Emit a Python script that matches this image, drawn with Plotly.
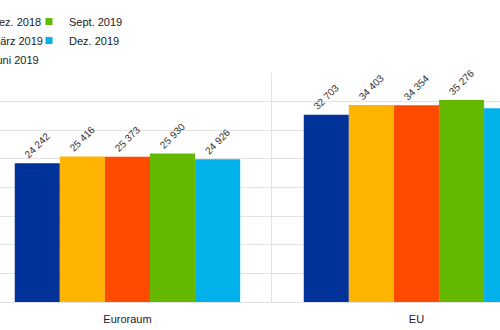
import plotly.graph_objects as go

categories = ["Euroraum", "EU"]
series_names = ["Dez. 2018", "März 2019", "Juni 2019", "Sept. 2019", "Dez. 2019"]
series_values = [
    [24242, 32703],
    [25416, 34403],
    [25373, 34354],
    [25930, 35276],
    [24926, 33840],
]
colors = ["#003299", "#FFB400", "#FF4B00", "#65B800", "#00B1EA"]
legend_of = ["legend", "legend", "legend", "legend2", "legend2"]

FONT = "Liberation Sans, Arial, sans-serif"

fig = go.Figure()
for name, vals, col, lg in zip(series_names, series_values, colors, legend_of):
    fig.add_trace(go.Bar(
        x=categories, y=vals, name=name, marker_color=col,
        marker_line_width=0,
        texttemplate="%{y:,}", textposition="outside", textangle=-45,
        textfont=dict(family=FONT, size=10, color="#333333"),
        cliponaxis=False, showlegend=False, legendgroup=name,
    ))
    fig.add_trace(go.Scatter(
        x=[None], y=[None], mode="markers", name=name,
        marker=dict(symbol="square", size=7, color=col),
        legendgroup=name, legend=lg, showlegend=True,
    ))

fig.update_layout(
    width=500, height=330,
    margin=dict(l=0, r=0, t=73, b=28, autoexpand=False),
    paper_bgcolor="white", plot_bgcolor="white",
    barmode="group", bargap=0.22, bargroupgap=0,
    separators=", ",
    font=dict(family=FONT, size=11, color="#222222"),
    xaxis=dict(range=[-0.441, 1.289], tickson="boundaries", showgrid=True,
               gridcolor="#e3e3e3", gridwidth=1, ticks="", showline=False,
               tickfont=dict(size=11, color="#222222"), zeroline=False,
               ticklabelstandoff=9),
    yaxis=dict(range=[0, 40000], dtick=5000, showgrid=True, gridcolor="#e3e3e3",
               gridwidth=1, showticklabels=False, zeroline=True,
               zerolinecolor="#e3e3e3", zerolinewidth=1, fixedrange=True),
    legend=dict(x=-0.098, xanchor="left", y=1.288, yanchor="top", orientation="v",
                bgcolor="rgba(0,0,0,0)", font=dict(size=11), itemwidth=30,
                tracegroupgap=0),
    legend2=dict(x=0.058, xanchor="left", y=1.288, yanchor="top", orientation="v",
                 bgcolor="rgba(0,0,0,0)", font=dict(size=11), itemwidth=30,
                 tracegroupgap=0),
)

fig.write_html("out.html")
